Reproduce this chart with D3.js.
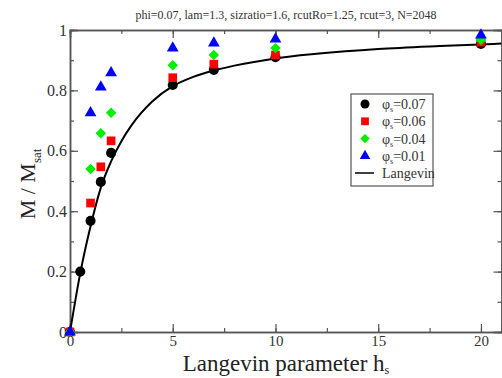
<!DOCTYPE html>
<html>
<head>
<meta charset="utf-8">
<script src="https://cdn.jsdelivr.net/npm/d3@7"></script>
<style>
  body { margin: 0; background: #fff; }
  svg text { font-family: "Liberation Serif", "Times New Roman", Tinos, "DejaVu Serif", serif !important; }
</style>
</head>
<body>
<div id="chart"></div>
<script>
// data
const hValues = [0, 0.5, 1, 1.5, 2, 5, 7, 10, 20];
const phi007 = [0, 0.2, 0.368, 0.497, 0.593, 0.818, 0.868, 0.91, 0.954];
const phi006 = [0, null, 0.427, 0.547, 0.633, 0.842, 0.887, 0.917, 0.96];
const phi004 = [0, null, 0.54, 0.658, 0.726, 0.883, 0.917, 0.94, 0.967];
const phi001 = [0, null, 0.726, 0.811, 0.858, 0.94, 0.957, 0.97, 0.983];
const langevinH = [0, 0.5, 1, 1.5, 2, 2.5, 3, 4, 5, 6, 7, 8, 10, 12, 15, 18, 21];
const langevinM = [0, 0.195, 0.35, 0.478, 0.565, 0.632, 0.685, 0.763, 0.814, 0.845, 0.866, 0.882, 0.906, 0.921, 0.937, 0.947, 0.955];
const xTicks = [0, 5, 10, 15, 20];
const yTicks = [0, 0.2, 0.4, 0.6, 0.8, 1];
const legendLabels = ['0.07', '0.06', '0.04', '0.01'];

const W = 502, H = 378;
const margin = { top: 30, right: 0, bottom: 46, left: 70 };
const width = 431.5;
const height = H - margin.top - margin.bottom;

const svg = d3.select('#chart').append('svg')
  .attr('width', W)
  .attr('height', H);

const g = svg.append('g')
  .attr('transform', 'translate(' + margin.left + ',' + margin.top + ')');

const x = d3.scaleLinear().domain([0, 21]).range([0, width]);
const y = d3.scaleLinear().domain([0, 1]).range([height, 0]);

const frameColor = '#555';

// axes with inward ticks on all four sides
const xMinor = d3.range(0, 21.01, 2.5);
const yMinor = d3.range(0, 1.001, 0.1);

function addAxis(axis, tr) {
  const a = g.append('g').attr('transform', tr).call(axis);
  a.attr('font-family', null);
  a.select('.domain').attr('stroke', frameColor).attr('stroke-width', 1.5);
  a.selectAll('line').attr('stroke', frameColor).attr('stroke-width', 1.2);
  return a;
}

addAxis(d3.axisBottom(x).tickValues(xMinor).tickSize(-4).tickFormat(''), 'translate(0,' + height + ')');
const xa = addAxis(d3.axisBottom(x).tickValues(xTicks).tickSize(-8).tickPadding(3).tickFormat(d3.format('d')), 'translate(0,' + height + ')');
xa.selectAll('text').attr('font-size', 15).attr('fill', '#333');

addAxis(d3.axisTop(x).tickValues(xMinor).tickSize(-4).tickFormat(''), 'translate(0,0)');
addAxis(d3.axisTop(x).tickValues(xTicks).tickSize(-8).tickFormat(''), 'translate(0,0)');

addAxis(d3.axisLeft(y).tickValues(yMinor).tickSize(-4).tickFormat(''), 'translate(0,0)');
const ya = addAxis(d3.axisLeft(y).tickValues(yTicks).tickSize(-8).tickPadding(3).tickFormat(d => d === 0 || d === 1 ? d3.format('d')(d) : d3.format('.1f')(d)), 'translate(0,0)');
ya.selectAll('text').attr('font-size', 16).attr('fill', '#333');

addAxis(d3.axisRight(y).tickValues(yMinor).tickSize(-4).tickFormat(''), 'translate(' + width + ',0)');
addAxis(d3.axisRight(y).tickValues(yTicks).tickSize(-8).tickFormat(''), 'translate(' + width + ',0)');

// Langevin curve
const line = d3.line()
  .x((d, i) => x(langevinH[i]))
  .y(d => y(d))
  .curve(d3.curveMonotoneX);

g.append('path')
  .datum(langevinM)
  .attr('fill', 'none')
  .attr('stroke', '#000')
  .attr('stroke-width', 2)
  .attr('d', line);

// series markers
const series = [
  { vals: phi007, color: '#000000', sym: d3.symbolCircle, size: 80, rot: 0 },
  { vals: phi006, color: '#ff0000', sym: d3.symbolSquare, size: 75, rot: 0 },
  { vals: phi004, color: '#00ee00', sym: d3.symbolSquare, size: 55, rot: 45 },
  { vals: phi001, color: '#0000ff', sym: d3.symbolTriangle, size: 60, rot: 0 }
];

series.forEach(s => {
  const pts = hValues.map((h, i) => [h, s.vals[i]]).filter(p => p[1] !== null);
  g.selectAll(null)
    .data(pts)
    .enter().append('path')
    .attr('d', d3.symbol().type(s.sym).size(s.size))
    .attr('transform', d => 'translate(' + x(d[0]) + ',' + y(d[1]) + ') rotate(' + s.rot + ')')
    .attr('fill', s.color);
});

// legend
const lg = svg.append('g').attr('transform', 'translate(351,94)');
lg.append('rect')
  .attr('width', 82).attr('height', 92)
  .attr('fill', '#fff').attr('stroke', frameColor).attr('stroke-width', 1.2);

series.forEach((s, i) => {
  const ry = 10 + i * 17.3;
  lg.append('path')
    .attr('d', d3.symbol().type(s.sym).size(s.size * 0.8))
    .attr('transform', 'translate(14,' + ry + ') rotate(' + s.rot + ')')
    .attr('fill', s.color);
  const t = lg.append('text')
    .attr('x', 31).attr('y', ry + 5)
    .attr('font-size', 14).attr('fill', '#333');
  t.append('tspan').text('φ');
  t.append('tspan').attr('font-size', 8).attr('dy', 3).text('s');
  t.append('tspan').attr('dy', -3).text('=' + legendLabels[i]);
});
lg.append('line')
  .attr('x1', 4).attr('x2', 23).attr('y1', 79).attr('y2', 79)
  .attr('stroke', '#000').attr('stroke-width', 1.5);
lg.append('text')
  .attr('x', 31).attr('y', 84)
  .attr('font-size', 14).attr('fill', '#333')
  .text('Langevin');

// title
svg.append('text')
  .attr('x', 286).attr('y', 19)
  .attr('text-anchor', 'middle')
  .attr('font-size', 12).attr('fill', '#333')
  .text('phi=0.07, lam=1.3, sizratio=1.6, rcutRo=1.25, rcut=3, N=2048');

// x axis label
const xl = svg.append('text')
  .attr('x', 286).attr('y', 371)
  .attr('text-anchor', 'middle')
  .attr('font-size', 23).attr('fill', '#222');
xl.append('tspan').text('Langevin parameter  h');
xl.append('tspan').attr('font-size', 12).attr('dy', 3).text('s');

// y axis label
const yl = svg.append('text')
  .attr('transform', 'translate(35,184) rotate(-90)')
  .attr('text-anchor', 'middle')
  .attr('font-size', 22).attr('fill', '#222');
yl.append('tspan').text('M / M');
yl.append('tspan').attr('font-size', 13).attr('dy', 6).text('sat');
</script>
</body>
</html>
